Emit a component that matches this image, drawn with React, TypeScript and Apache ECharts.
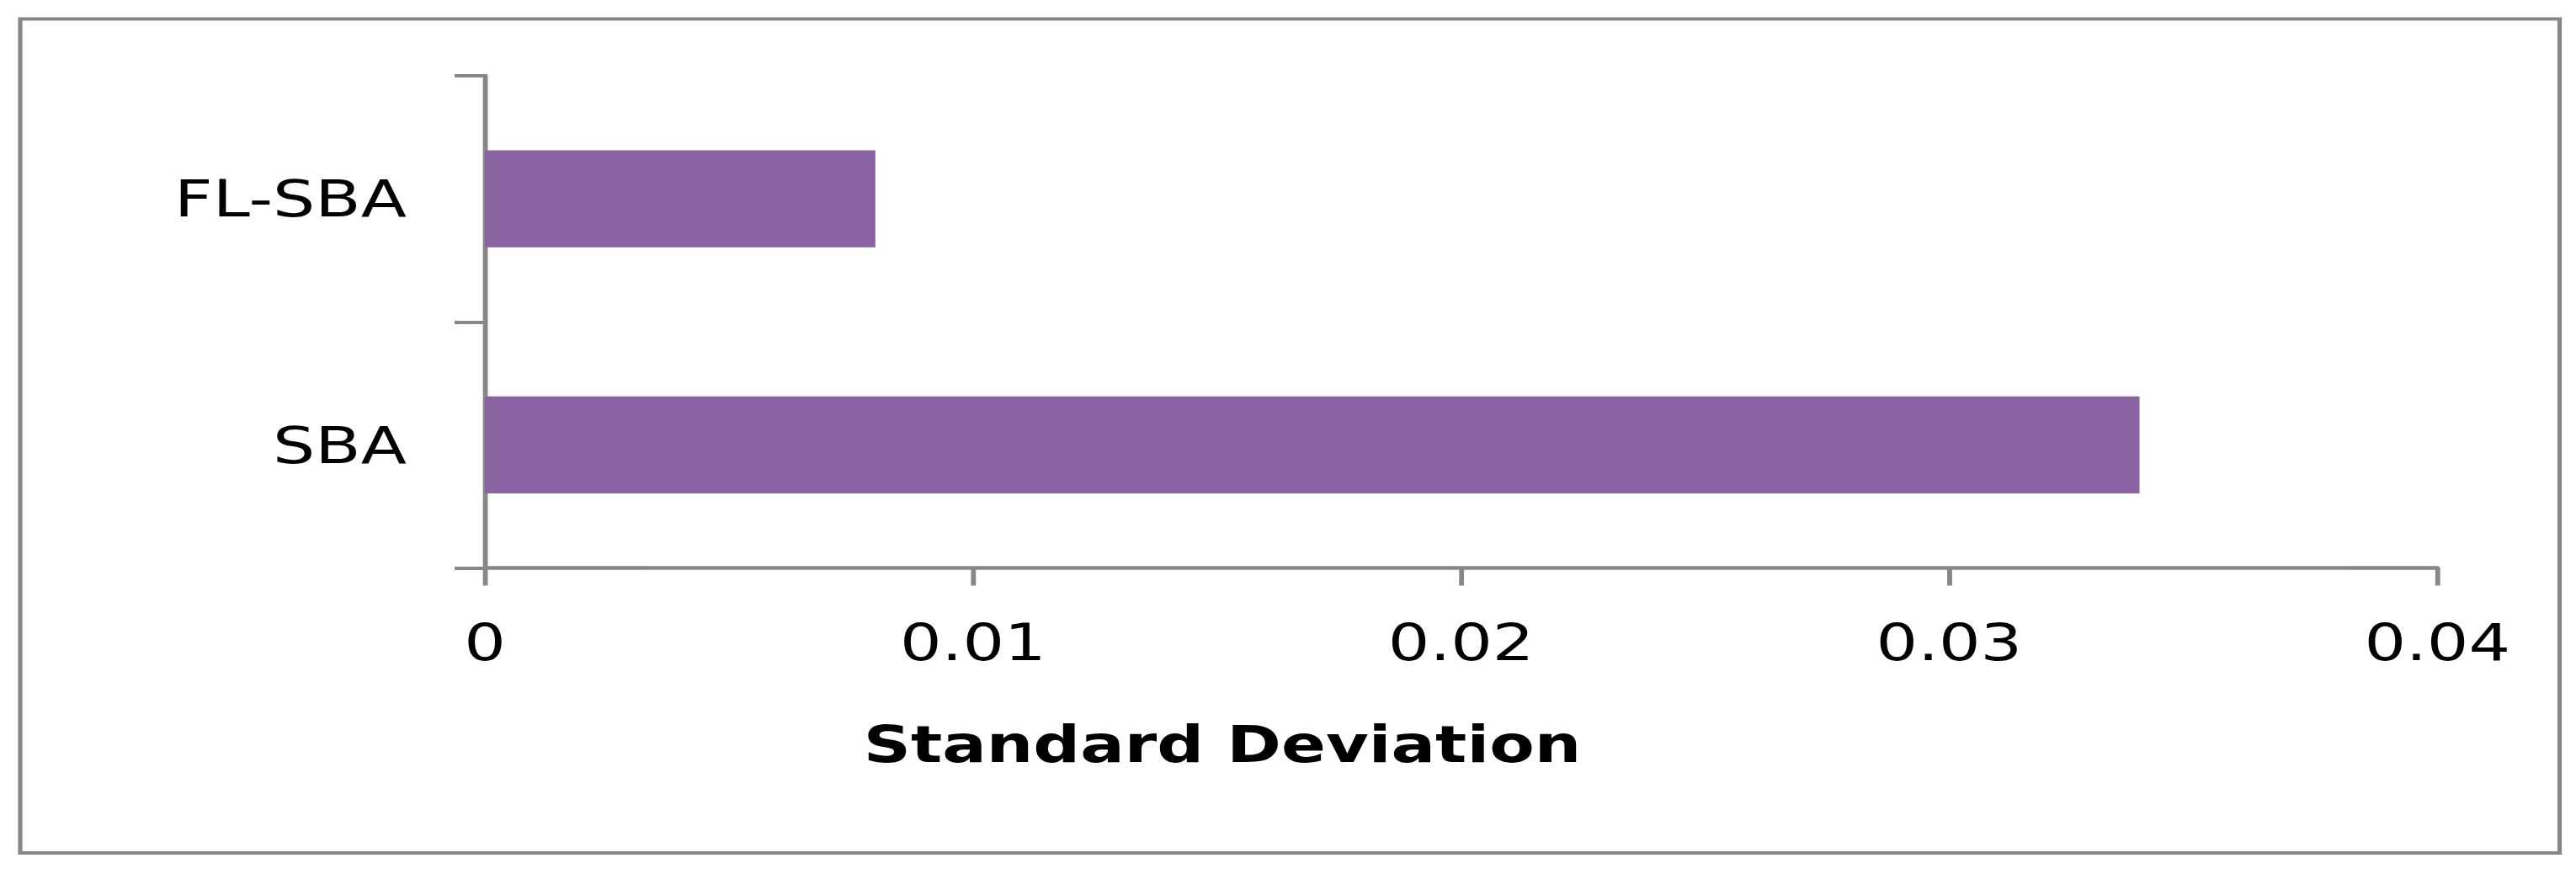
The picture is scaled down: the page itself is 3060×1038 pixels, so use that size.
import React, { useEffect, useRef } from "react";
import * as echarts from "echarts";

const categories = ["SBA", "FL-SBA"];
const values = [0.0339, 0.008];
const xMin = 0;
const xMax = 0.04;
const xStep = 0.01;
const axisTitle = "Standard Deviation";

// The reference picture is stretched horizontally; the chart is drawn on a
// narrower canvas and stretched by the same factor.
const PAGE_W = 3060;
const PAGE_H = 1038;
const STRETCH = 1.3;
const INNER_W = PAGE_W / STRETCH;

export default function App() {
  const ref = useRef<HTMLDivElement>(null);
  useEffect(() => {
    const chart = echarts.init(ref.current as HTMLDivElement, null, { renderer: "svg" });
    const axisColor = "#878787";
    const font = "DejaVu Sans";
    const sx = (v: number) => v / STRETCH;
    chart.setOption({
      animation: false,
      backgroundColor: "#ffffff",
      grid: {
        left: sx(576),
        right: INNER_W - sx(2895),
        top: 90,
        bottom: PAGE_H - 674.5,
        containLabel: false,
      },
      xAxis: {
        type: "value",
        min: xMin,
        max: xMax,
        interval: xStep,
        axisLine: { show: true, lineStyle: { color: axisColor, width: 4.5 } },
        axisTick: { show: true, length: 21, lineStyle: { color: axisColor, width: 4.5 } },
        splitLine: { show: false },
        axisLabel: {
          margin: 58,
          fontSize: 60,
          color: "#000000",
          fontFamily: font,
          formatter: (v: number) => String(+v.toFixed(2)),
        },
      },
      yAxis: {
        type: "category",
        data: categories,
        axisLine: { show: true, lineStyle: { color: axisColor, width: 4.5 } },
        axisTick: { show: true, length: sx(36), lineStyle: { color: axisColor, width: 4 } },
        axisLabel: { margin: sx(93), fontSize: 61, color: "#000000", fontFamily: font },
      },
      series: [
        {
          type: "bar",
          data: values,
          barWidth: "39.5%",
          itemStyle: { color: "#8A64A2" },
        },
      ],
      graphic: [
        {
          type: "rect",
          shape: { x: sx(24), y: 22.5, width: sx(3040.5) - sx(24), height: 990.5 },
          style: { fill: "none", stroke: axisColor, lineWidth: 4 },
          silent: true,
        },
        {
          type: "text",
          x: sx(1452),
          y: 884,
          style: {
            text: axisTitle,
            fill: "#000000",
            fontSize: 60,
            fontWeight: "bold",
            fontFamily: font,
            align: "center",
            verticalAlign: "middle",
          },
        },
      ],
    });
    return () => chart.dispose();
  }, []);
  return (
    <div style={{ position: "fixed", left: 0, top: 0, width: PAGE_W, height: PAGE_H, background: "#fff", overflow: "hidden" }}>
      <div
        ref={ref}
        style={{
          width: INNER_W,
          height: PAGE_H,
          transform: `scaleX(${STRETCH})`,
          transformOrigin: "0 0",
        }}
      />
    </div>
  );
}
